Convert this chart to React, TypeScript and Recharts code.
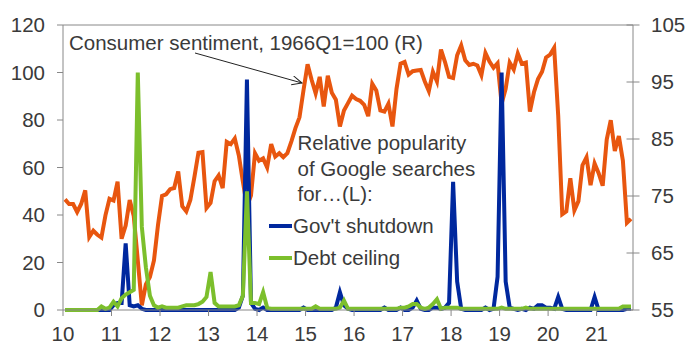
import { ComposedChart, Line, XAxis, YAxis, ReferenceLine } from 'recharts'

// Monthly, Jan 2010 .. Sep 2021
const sentiment = [
  74.4, 73.6, 73.6, 72.2, 73.6, 76.0, 67.8, 68.9, 68.2, 67.7, 71.6, 74.5,
  74.2, 77.5, 67.5, 69.8, 74.3, 71.5, 63.7, 55.8, 59.5, 60.8, 63.7, 69.9,
  75.0, 75.3, 76.2, 76.4, 79.3, 73.2, 72.3, 74.3, 78.3, 82.6, 82.7, 72.9,
  73.8, 77.6, 78.6, 76.4, 84.5, 84.1, 85.1, 82.1, 77.5, 73.2, 75.1, 82.5,
  81.2, 81.6, 80.0, 84.1, 81.9, 82.5, 81.8, 82.5, 84.6, 86.9, 88.8, 93.6,
  98.1, 95.4, 93.0, 95.9, 90.7, 96.1, 93.1, 91.9, 87.2, 90.0, 91.3, 92.6,
  92.0, 91.7, 91.0, 89.0, 94.7, 93.5, 90.0, 89.8, 91.2, 87.2, 93.8, 98.2,
  98.5, 96.3, 96.9, 97.0, 97.1, 95.1, 93.4, 96.8, 95.1, 100.7, 98.5, 95.9,
  95.7, 99.7, 101.4, 98.8, 98.0, 98.2, 97.9, 96.2, 100.1, 98.6, 97.5, 98.3,
  91.2, 93.8, 98.4, 97.2, 100.0, 98.2, 98.4, 89.8, 93.2, 95.5, 96.8, 99.3,
  99.8, 101.0, 89.1, 71.8, 72.3, 78.1, 72.5, 74.1, 80.4, 81.8, 76.9, 80.7,
  79.0, 76.8, 84.9, 88.3, 82.9, 85.5, 81.2, 70.3, 71.0,
]

const shutdown = [
  0, 0, 0, 0, 0, 0, 0, 0, 0, 0, 0, 0,
  2, 3, 3, 28, 2, 1.5, 2, 0.5, 0, 0, 0, 0,
  0, 0, 0, 0, 0, 0, 0, 0, 0, 0, 0, 0,
  0, 0, 0, 0, 0, 0, 0, 1, 6, 97, 3, 0.5,
  0, 1, 0, 0, 0, 0, 0, 0, 0, 0, 0, 1,
  0, 0, 0, 0, 0, 0, 0, 1, 7.5, 2, 0.5, 0,
  0, 0, 0, 0, 0, 0, 0, 1, 0, 0, 0, 1,
  0, 0, 1, 4, 0.5, 0, 0, 1, 1, 0.5, 1, 3,
  54, 12, 0.5, 0, 0, 0, 0, 0, 1, 0, 0.5, 14,
  100, 12, 1, 0.5, 0, 0.5, 0, 1, 0.5, 2, 2, 1,
  1, 0.5, 5.5, 0.5, 0, 0, 0, 0, 0, 0, 0, 5.5,
  0, 0, 0, 0, 0, 0, 0, 0.5, 0.5,
]

const debtCeiling = [
  0, 0, 0, 0, 0, 0, 0, 0, 0, 1.5, 0.5, 1,
  3.5, 1.5, 5, 6.5, 7.5, 8.5, 100, 35, 18, 6, 2, 1,
  1.5, 1, 1, 1, 1, 1.5, 2, 2, 2, 2.5, 3.5, 5.5,
  16, 3, 1.5, 1.5, 1.5, 1.5, 1.5, 2, 6, 50, 3, 3,
  2.5, 7.5, 1, 0.5, 0.5, 0.5, 0.5, 0.5, 0.5, 0.5, 0.5, 0.5,
  0.5, 0.5, 1.5, 0.5, 0.5, 0.5, 0.5, 0.5, 1, 4, 0.5, 0.5,
  0.5, 0.5, 0.5, 0.5, 0.5, 0.5, 0.5, 0.5, 0.5, 0.5, 0.5, 1,
  1, 1.5, 2.5, 2.5, 1, 0.5, 1, 2.5, 4.5, 0.5, 1, 1,
  1, 1, 0.5, 0.5, 0.5, 0.5, 0.5, 0.5, 0.5, 0.5, 0.5, 0.5,
  1, 0.5, 0.5, 0.5, 0.5, 0.5, 1, 0.5, 0.5, 0.5, 0.5, 0.5,
  0.5, 0.5, 0.5, 0.5, 0.5, 0.5, 0.5, 0.5, 0.5, 0.5, 0.5, 0.5,
  0.5, 0.5, 0.5, 0.5, 0.5, 0.5, 1.5, 1.5, 1.5,
]

const xTicks = [10, 11, 12, 13, 14, 15, 16, 17, 18, 19, 20, 21]
const leftTicks = [0, 20, 40, 60, 80, 100, 120]
const rightTicks = [55, 65, 75, 85, 95, 105]

const ORANGE = '#E8560F'
const BLUE = '#00289E'
const GREEN = '#7CBF2C'
const AXIS = '#888888'
const TEXT = '#3a3a3a'
const FONT = '"Liberation Sans", Arial, sans-serif'
const FS = 20.5

// points sit mid-month on a year axis
const data = sentiment.map((s, i) => ({
  x: 10 + (i + 0.5) / 12,
  sent: s,
  shut: shutdown[i],
  debt: debtCeiling[i],
}))

interface TickProps {
  x: number
  y: number
  payload: { value: number }
}

// right axis ticks cross the axis line
const RightTick = ({ x, y, payload }: TickProps) => (
  <g>
    <line x1={x - 24.5} x2={x - 11.5} y1={y} y2={y} stroke={AXIS} strokeWidth={1} />
    <text x={x} y={y} dy="0.355em" fill={TEXT} fontSize={FS} fontFamily={FONT} textAnchor="start">
      {payload.value}
    </text>
  </g>
)

export default function App() {
  const tickStyle = { fill: TEXT, fontSize: FS, fontFamily: FONT }

  return (
    <div style={{ position: 'absolute', left: 0, top: 0, width: 686, height: 344, background: '#fff' }}>
      <ComposedChart width={686} height={344} data={data} margin={{ top: 25, right: 0, bottom: 0, left: 0 }}>
        <XAxis
          dataKey="x"
          type="number"
          domain={[10, 21.75]}
          ticks={xTicks}
          allowDataOverflow
          height={34}
          tickSize={6}
          tickMargin={10}
          stroke={AXIS}
          tick={tickStyle}
        />
        <YAxis
          yAxisId="left"
          domain={[0, 120]}
          ticks={leftTicks}
          width={63}
          tickSize={6}
          tickMargin={12}
          stroke={AXIS}
          tick={tickStyle}
        />
        <YAxis
          yAxisId="right"
          orientation="right"
          domain={[55, 105]}
          ticks={rightTicks}
          width={53}
          tickSize={6}
          tickMargin={12}
          stroke={AXIS}
          tickLine={false}
          tick={(p: TickProps) => <RightTick {...p} />}
        />
        <ReferenceLine yAxisId="left" y={120} stroke={AXIS} strokeWidth={1} />
        <Line
          yAxisId="right"
          dataKey="sent"
          stroke={ORANGE}
          strokeWidth={4}
          dot={false}
          activeDot={false}
          isAnimationActive={false}
        />
        <Line
          yAxisId="left"
          dataKey="shut"
          stroke={BLUE}
          strokeWidth={4}
          dot={false}
          activeDot={false}
          isAnimationActive={false}
        />
        <Line
          yAxisId="left"
          dataKey="debt"
          stroke={GREEN}
          strokeWidth={4}
          dot={false}
          activeDot={false}
          isAnimationActive={false}
        />
      </ComposedChart>

      {/* annotations and legend */}
      <svg
        width={686}
        height={344}
        style={{ position: 'absolute', left: 0, top: 0, pointerEvents: 'none' }}
        fontFamily={FONT}
        fontSize={FS}
        fill={TEXT}
      >
        <defs>
          <marker id="arrow" markerWidth={12} markerHeight={12} refX={10} refY={5} orient="auto" markerUnits="userSpaceOnUse">
            <path d="M0,0.5 L10,5 L0,9.5" fill="none" stroke="#222" strokeWidth={1} />
          </marker>
        </defs>
        <text x={69} y={50}>Consumer sentiment, 1966Q1=100 (R)</text>
        <line x1={195} y1={53} x2={302} y2={83} stroke="#222" strokeWidth={1} markerEnd="url(#arrow)" />
        <text x={297.5} y={150}>Relative popularity</text>
        <text x={297.5} y={175.5}>of Google searches</text>
        <text x={297.5} y={201}>for…(L):</text>
        <line x1={269} y1={226} x2={292} y2={226} stroke={BLUE} strokeWidth={4} />
        <text x={293} y={233}>Gov't shutdown</text>
        <line x1={269} y1={258} x2={292} y2={258} stroke={GREEN} strokeWidth={4} />
        <text x={293} y={264.5}>Debt ceiling</text>
      </svg>
    </div>
  )
}
